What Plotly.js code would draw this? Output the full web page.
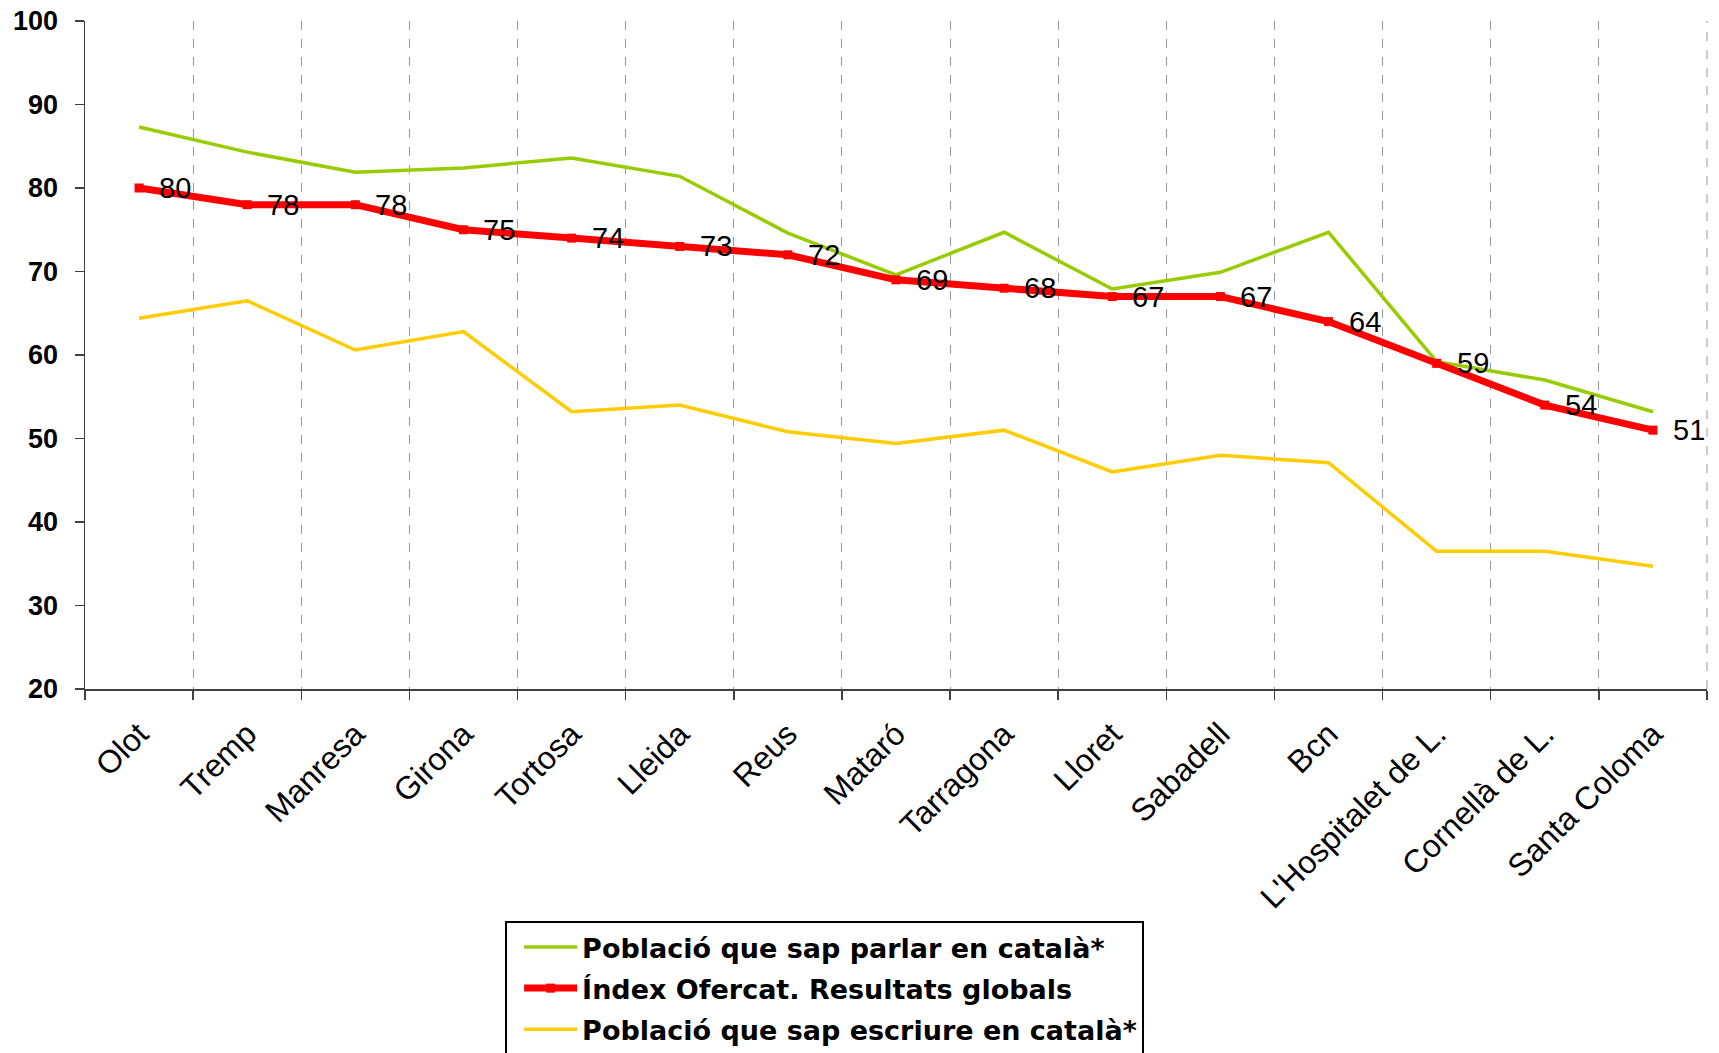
<!DOCTYPE html>
<html>
<head>
<meta charset="utf-8">
<script src="https://cdn.plot.ly/plotly-3.0.1.min.js"></script>
<style>html,body{margin:0;padding:0;background:#fff;overflow:hidden;}#chart{width:1719px;height:1053px;}</style>
</head>
<body>
<div id="chart"></div>
<script>
const categories = ['Olot','Tremp','Manresa','Girona','Tortosa','Lleida','Reus','Mataró','Tarragona','Lloret','Sabadell','Bcn',"L'Hospitalet de L.",'Cornellà de L.','Santa Coloma'];
const parlar = [87.3, 84.3, 81.9, 82.4, 83.6, 81.4, 74.6, 69.6, 74.7, 67.9, 69.9, 74.7, 59.2, 57.0, 53.2];
const indexOfercat = [80, 78, 78, 75, 74, 73, 72, 69, 68, 67, 67, 64, 59, 54, 51];
const escriure = [64.4, 66.5, 60.6, 62.8, 53.2, 54.0, 50.8, 49.4, 51.0, 46.0, 48.0, 47.1, 36.5, 36.5, 34.7];
const seriesNames = ['Població que sap parlar en català*', 'Índex Ofercat. Resultats globals', 'Població que sap escriure en català*'];
const yTicks = [20, 30, 40, 50, 60, 70, 80, 90, 100];

const FONT = 'Arial, "Liberation Sans", sans-serif';
const LEGEND_FONT = '"DejaVu Sans", Arial, sans-serif';

const traces = [
  {x: categories, y: parlar, name: seriesNames[0], type: 'scatter', mode: 'lines',
   line: {color: '#99CC00', width: 3.5}, legendgroup: 'a'},
  {x: categories, y: indexOfercat, name: seriesNames[1], type: 'scatter', mode: 'lines+markers',
   line: {color: '#FF0000', width: 7}, marker: {symbol: 'square', size: 9, color: '#FF0000'}, legendgroup: 'b'},
  {x: categories, y: escriure, name: seriesNames[2], type: 'scatter', mode: 'lines',
   line: {color: '#FFCC00', width: 3.5}, legendgroup: 'c'}
];

const annotations = categories.map((c, i) => ({
  x: c, y: indexOfercat[i], text: String(indexOfercat[i]), showarrow: false,
  xanchor: 'left', yanchor: 'middle', xshift: 18,
  font: {family: FONT, size: 29, color: '#000'}
}));

const layout = {
  width: 1719, height: 1053,
  margin: {l: 85, r: 12, t: 21, b: 364, pad: 0},
  paper_bgcolor: '#fff', plot_bgcolor: '#fff',
  showlegend: true,
  font: {family: FONT, color: '#000'},
  xaxis: {
    type: 'category', range: [-0.5, 14.5], tickson: 'boundaries',
    showgrid: true, gridcolor: '#999', gridwidth: 1, griddash: 'dash',
    showline: true, linecolor: '#404040', linewidth: 1.5,
    ticks: 'outside', ticklen: 9, tickcolor: '#404040', tickwidth: 1.5,
    tickangle: -45, tickfont: {family: FONT, size: 32, color: '#000'},
    ticklabelstandoff: 12, automargin: false,
    zeroline: false, fixedrange: true
  },
  yaxis: {
    range: [20, 100], tickvals: yTicks, ticktext: yTicks.map(String),
    showgrid: false, zeroline: false,
    showline: true, linecolor: '#404040', linewidth: 1.5,
    ticks: 'outside', ticklen: 9, tickcolor: '#404040', tickwidth: 1.5,
    tickfont: {family: FONT, size: 27, color: '#000', weight: 'bold'},
    ticklabelstandoff: 11, automargin: false,
    fixedrange: true
  },
  legend: {
    xref: 'paper', yref: 'container',
    x: 0.259, y: 0.1254, xanchor: 'left', yanchor: 'top',
    bordercolor: '#000', borderwidth: 2, bgcolor: '#fff',
    font: {family: LEGEND_FONT, size: 27, color: '#000', weight: 'bold'},
    traceorder: 'grouped', tracegroupgap: 3, itemwidth: 53, indentation: 12
  },
  shapes: [
    {type: 'line', xref: 'paper', yref: 'paper', x0: 1, x1: 1, y0: 0, y1: 1,
     line: {color: '#999', width: 1, dash: 'dash'}, layer: 'below'}
  ],
  annotations: annotations
};

Plotly.newPlot('chart', traces, layout, {displayModeBar: false, staticPlot: true});
</script>
</body>
</html>
